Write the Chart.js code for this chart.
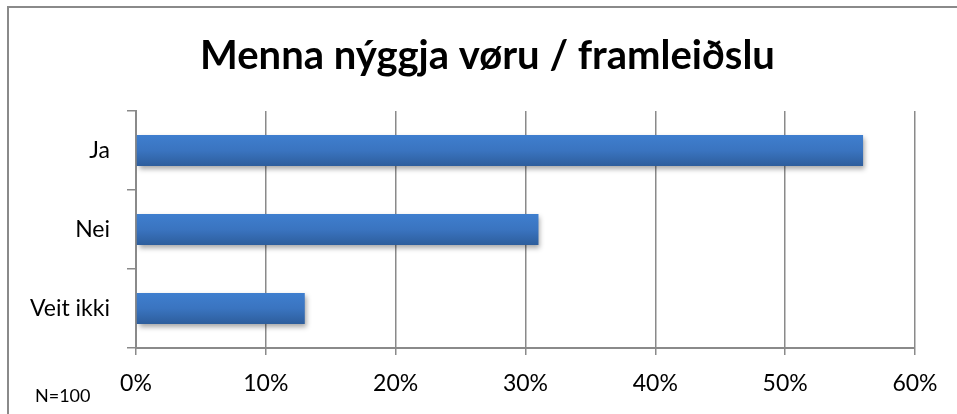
<!DOCTYPE html>
<html>
<head>
<meta charset="utf-8">
<script src="https://cdn.jsdelivr.net/npm/chart.js@4/dist/chart.umd.min.js"></script>
<style>
  html, body { margin: 0; padding: 0; background: #fff; }
  #wrap { position: relative; width: 957px; height: 414px; overflow: hidden; }
  #frame { position: absolute; left: 7px; top: 6px; width: 1000px; height: 500px;
           border-top: 2px solid #8a8a8a; border-left: 2px solid #8a8a8a; box-sizing: border-box; }
  canvas { position: absolute; left: 0; top: 0; }
</style>
</head>
<body>
<div id="wrap">
  <div id="frame"></div>
  <canvas id="result" width="957" height="414"></canvas>
</div>
<script>
const chartTitle = "Menna nýggja vøru / framleiðslu";
const categories = ["Ja", "Nei", "Veit ikki"];
const shares = [56, 31, 13];
const xTicks = [0, 10, 20, 30, 40, 50, 60];
const footNote = "N=100";

const fontName = "Lato, 'Open Sans', sans-serif";
const gridGrey = "#8a8a8a";

// shadow under the bars, like the office chart
const barShadow = {
  id: "barShadow",
  beforeDatasetDraw(chart) {
    const ctx = chart.ctx;
    ctx.save();
    ctx.shadowColor = "rgba(0,0,0,0.35)";
    ctx.shadowBlur = 5;
    ctx.shadowOffsetX = 2;
    ctx.shadowOffsetY = 3;
  },
  afterDatasetDraw(chart) {
    chart.ctx.restore();
  }
};

// title (a bit right of centre, as in the original) and the "N=100" note
const extraText = {
  id: "extraText",
  afterDraw(chart) {
    const ctx = chart.ctx;
    ctx.save();
    ctx.fillStyle = "#000";
    ctx.font = "bold 40px " + fontName;
    ctx.textAlign = "center";
    ctx.textBaseline = "middle";
    ctx.fillText(chartTitle, 487.5, 56);
    ctx.font = "18px " + fontName;
    ctx.textAlign = "left";
    ctx.textBaseline = "alphabetic";
    ctx.fillText(footNote, 35, 402);
    ctx.restore();
  }
};

function barFill(context) {
  const chart = context.chart;
  const y = chart.scales.y;
  if (!y || context.dataIndex === undefined) return "#3a72bd";
  const mid = y.getPixelForValue(context.dataIndex);
  if (!isFinite(mid)) return "#3a72bd";
  const half = 16;
  const g = chart.ctx.createLinearGradient(0, mid - half, 0, mid + half);
  g.addColorStop(0, "#3f7fcf");
  g.addColorStop(0.5, "#3a74c0");
  g.addColorStop(1, "#2d5d9b");
  return g;
}

new Chart("result", {
  type: "bar",
  data: {
    labels: categories,
    datasets: [{
      data: shares,
      backgroundColor: barFill,
      borderWidth: 0,
      barPercentage: 0.39,
      categoryPercentage: 1
    }]
  },
  options: {
    indexAxis: "y",
    responsive: false,
    animation: false,
    layout: { padding: { left: 0, right: 42, top: 111, bottom: 0 } },
    plugins: {
      legend: { display: false },
      tooltip: { enabled: false },
      title: { display: false }
    },
    scales: {
      x: {
        min: 0,
        max: 60,
        afterBuildTicks(axis) { axis.ticks = xTicks.map(v => ({ value: v })); },
        afterFit(axis) { axis.height = 66; },
        grid: { color: gridGrey, lineWidth: 1.5, tickLength: 7, drawTicks: true },
        border: { color: gridGrey, width: 2 },
        ticks: {
          color: "#000",
          padding: 15,
          font: { family: fontName, size: 23 },
          callback: v => v + "%"
        }
      },
      y: {
        afterFit(axis) { axis.width = 136; },
        grid: { drawOnChartArea: false, color: gridGrey, lineWidth: 1.5, tickLength: 9, offset: true },
        border: { color: gridGrey, width: 2 },
        ticks: {
          color: "#000",
          padding: 17,
          font: { family: fontName, size: 23 }
        }
      }
    }
  },
  plugins: [barShadow, extraText]
});
</script>
</body>
</html>
